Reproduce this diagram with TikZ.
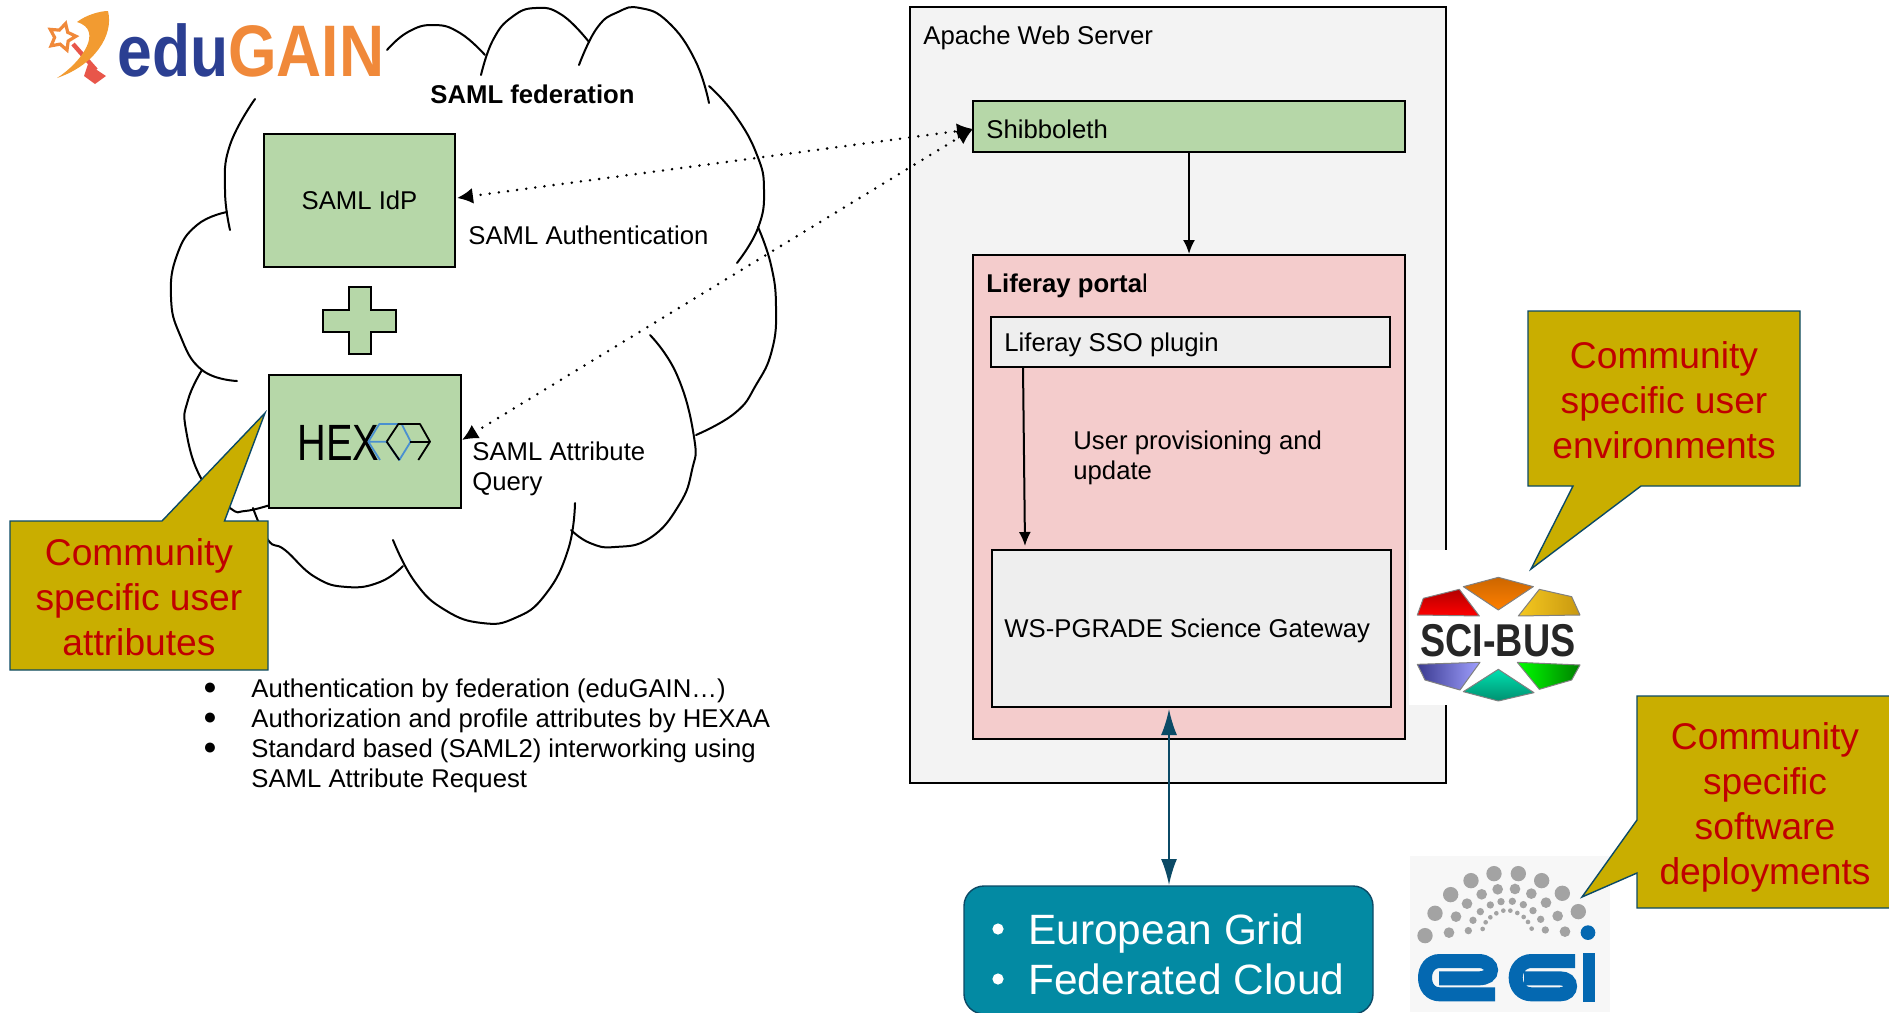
\documentclass[tikz,border=0pt]{standalone}
\usepackage{fontspec}
\setmainfont{Liberation Sans}
\usepackage{tikz}
\usetikzlibrary{positioning}
\usetikzlibrary{arrows.meta}
\usetikzlibrary{shapes.geometric}
\definecolor{boxgreen}{HTML}{B6D7A8}
\definecolor{boxpink}{HTML}{F4CCCC}
\definecolor{boxgray}{HTML}{F3F3F3}
\definecolor{boxlight}{HTML}{EEEEEE}
\definecolor{noteyellow}{HTML}{C9AE00}
\definecolor{notered}{HTML}{C00000}
\definecolor{edgeteal}{HTML}{0B4A66}
\definecolor{gridteal}{HTML}{038AA3}
\definecolor{edublue}{HTML}{2B3F92}
\definecolor{eduorange}{HTML}{F0893A}
\definecolor{edured}{HTML}{E8564A}
\definecolor{egiblue}{HTML}{0468B1}
\definecolor{egigray}{HTML}{A3A3A3}
\definecolor{hexblue}{HTML}{4A90D0}
\definecolor{teallight}{HTML}{00E0B0}
\definecolor{tealdark}{HTML}{009070}
\definecolor{goldlight}{HTML}{F5C820}
\definecolor{golddark}{HTML}{C89810}
\definecolor{bluelight}{HTML}{A0A0FF}
\definecolor{bluedark}{HTML}{3A3A90}

\begin{document}
\begin{tikzpicture}[x=0.5pt,y=-0.5pt,
cloudline/.style={draw=black, line width=1pt, line cap=round},
plainbox/.style={rectangle, draw=black, line width=1pt, inner sep=0pt},
greennode/.style={plainbox, fill=boxgreen},
pinknode/.style={plainbox, fill=boxpink},
graynode/.style={plainbox, fill=boxlight},
labeltext/.style={font=\fontsize{12.85}{15}\selectfont, align=left, anchor=west, inner sep=0pt},
notetext/.style={font=\fontsize{18.6}{22.5}\selectfont, align=center, text=notered, inner sep=0pt},
noteshape/.style={draw=edgeteal, fill=noteyellow, line width=0.7pt},
logopoly/.style={draw=gray, line width=0.5pt, line join=round},
egistroke/.style={draw=egiblue, line width=7pt},
dotline/.style={draw=black, line width=1.4pt, line cap=round, dash pattern=on 0pt off 4.6pt, {Latex[length=8pt,width=8pt]}-{Latex[length=8pt,width=8pt]}},
]
\useasboundingbox (0,0) rectangle (1889,1012);

%Cloud
\draw[cloudline] plot[smooth,tension=0.8] coordinates {(387,50) (408,32) (434,25) (460,33) (485,55)};
\draw[cloudline] plot[smooth,tension=0.8] coordinates {(481,75) (493,40) (512,17) (536,8) (562,15) (589,42)};
\draw[cloudline] plot[smooth,tension=0.8] coordinates {(579,65) (597,28) (618,12) (640,8) (668,22) (695,60) (709,103)};
\draw[cloudline] plot[smooth,tension=0.8] coordinates {(709,86) (735,115) (757,155) (764,190) (758,228) (737,263)};
\draw[cloudline] plot[smooth,tension=0.8] coordinates {(758,227) (771,265) (776,307) (772,350) (756,385) (735,413) (696,435)};
\draw[cloudline] plot[smooth,tension=0.8] coordinates {(650,335) (677,375) (694,437) (692,470) (679,505) (650,538) (615,547) (590,543) (571,530)};
\draw[cloudline] plot[smooth,tension=0.8] coordinates {(575,503) (568,550) (545,595) (515,618) (482,623) (445,610) (415,582) (393,540)};
\draw[cloudline] plot[smooth,tension=0.8] coordinates {(403,566) (380,582) (347,587) (315,577) (285,550) (268,540) (253,508)};
\draw[cloudline] plot[smooth,tension=0.8] coordinates {(270,505) (245,511) (230,508) (202,480) (186,430) (188,400) (202,370)};
\draw[cloudline] plot[smooth,tension=0.8] coordinates {(237,381) (202,370) (180,335) (171,297) (177,255) (197,225) (227,212)};
\draw[cloudline] plot[smooth,tension=0.8] coordinates {(230,230) (225,190) (230,145) (255,99)};

%eduGAIN logo
\node[star, star points=5, star point ratio=1.9, draw=eduorange, line width=1.6pt, minimum size=14pt, inner sep=0pt, rotate=-15] (edustar) at (62,37) {};
\draw[draw=edured, line width=2.2pt] (73,44) -- (96,70);
\fill[edured] (88,64) -- (106,76) -- (95,84) -- (84,76) -- cycle;
\fill[eduorange!85!yellow] (108,11) .. controls (114,35) and (95,65) .. (57,78) .. controls (82,62) and (104,30) .. (77,22) .. controls (86,15) and (100,11) .. (108,11) -- cycle;
\node[inner sep=0pt, anchor=base west, xscale=0.855, font=\fontsize{36.5}{40}\bfseries] (edugain) at (117,76) {\textcolor{edublue}{edu}\textcolor{eduorange}{GAIN}};

%Boxes
\node[plainbox, fill=boxgray, minimum width=268pt, minimum height=388pt] (apache) at (1178,395) {};
\node[greennode, minimum width=216pt, minimum height=25.5pt] (shib) at (1189,126.5) {};
\node[pinknode, minimum width=216pt, minimum height=242pt] (liferay) at (1189,497) {};
\node[graynode, minimum width=199.5pt, minimum height=25pt] (sso) at (1190.5,342) {};
\node[graynode, minimum width=199.5pt, minimum height=78.5pt] (gateway) at (1191.5,628.5) {};
\node[greennode, minimum width=95.5pt, minimum height=66.5pt, font=\fontsize{12.85}{15}\selectfont] (idp) at (359.5,200.5) {SAML IdP};
\node[greennode, minimum width=96pt, minimum height=66.5pt] (hexaa) at (365,441.5) {};
\draw[greennode] (349,287) -- (371,287) -- (371,310) -- (396,310) -- (396,332) -- (371,332) -- (371,354) -- (349,354) -- (349,332) -- (323,332) -- (323,310) -- (349,310) -- cycle;

%HEXAA logo
\node[inner sep=0pt, anchor=base west, xscale=0.78, font=\fontsize{25.5}{30}\selectfont] (hexword) at (297,460) {HEX};
\begin{scope}[shift={(280,400)},scale=0.3333]
\draw[hexblue, line width=0.9pt, line join=round] (300,180) -- (265,125) -- (298,72) -- (365,72) -- (392,125) -- (358,180) -- (320,125) -- (265,125);
\draw[black, line width=0.9pt, line join=round] (320,125) -- (355,72) -- (420,72) -- (450,125) -- (415,180);
\draw[black, line width=0.9pt] (390,125) -- (450,125);
\draw[black, line width=0.9pt] (320,125) -- (358,180);
\end{scope}

%Texts
\node[labeltext] (apachetext) at (923,37.4) {Apache Web Server};
\node[labeltext] (shibtext) at (986,129) {Shibboleth};
\node[labeltext] (portaltext) at (986,285.4) {{\bfseries Liferay porta}l};
\node[labeltext] (ssotext) at (1004,344.4) {Liferay SSO plugin};
\node[labeltext] (updatetext) at (1073,457.4) {User provisioning and\\update};
\node[labeltext] (gatewaytext) at (1004,630.4) {WS-PGRADE Science Gateway};
\node[labeltext, font=\fontsize{12.85}{15}\bfseries] (fedtext) at (430,94) {SAML federation};
\node[labeltext] (authtext) at (468,235) {SAML Authentication};
\node[labeltext] (querytext) at (472,468.4) {SAML Attribute\\Query};
\node[labeltext] (notes) at (251,736) {Authentication by federation (eduGAIN…)\\Authorization and profile attributes by HEXAA\\Standard based (SAML2) interworking using\\SAML Attribute Request};
\foreach \ypos in {689,719,749}
  \node[labeltext, anchor=center, font=\fontsize{11.5}{15}\selectfont] at (210,\ypos) {●};

%SCI-BUS logo
\node[fill=white, inner sep=0pt, minimum width=90pt, minimum height=77.5pt] (scibg) at (1499,627.5) {};
\begin{scope}[shift={(1380,530)},scale=0.3333]
\draw[logopoly, top color=orange!80!black, bottom color=orange] (250,170) -- (355,142) -- (460,170) -- (355,240) -- cycle;
\draw[logopoly, top color=red!70!black, bottom color=red] (112,255) -- (130,205) -- (238,178) -- (298,258) -- cycle;
\draw[logopoly, left color=goldlight, right color=golddark] (415,258) -- (478,178) -- (575,200) -- (600,255) -- cycle;
\draw[logopoly, left color=bluedark, right color=bluelight] (112,403) -- (300,397) -- (240,480) -- (135,450) -- cycle;
\draw[logopoly, top color=teallight, bottom color=tealdark] (250,485) -- (355,418) -- (462,488) -- (355,513) -- cycle;
\draw[logopoly, left color=green, right color=green!50!black] (412,397) -- (600,405) -- (575,450) -- (478,478) -- cycle;
\end{scope}
\node[inner sep=0pt, xscale=0.82, font=\fontsize{23}{26}\bfseries, text=black!85] (scitext) at (1498,641) {SCI-BUS};

%EGI logo
\node[fill=black!3, inner sep=0pt, minimum width=100pt, minimum height=78pt] (egibg) at (1510,934) {};
\begin{scope}[shift={(1380,530)},scale=0.3333]
\foreach \xpos/\ypos in {135/1217,165/1150,212/1094,273/1052,342/1031,415/1031,485/1052,547/1090,595/1145}
  \fill[egigray] (\xpos,\ypos) circle (11.5pt);
\fill[egiblue] (624,1208) circle (11pt);
\foreach \xpos/\ypos in {207/1208,228/1160,261/1121,305/1093,353/1078,405/1077,454/1091,498/1118,533/1158,555/1205}
  \fill[egigray] (\xpos,\ypos) circle (8pt);
\foreach \xpos/\ypos in {265/1202,279/1171,301/1145,331/1125,363/1115,397/1114,430/1124,459/1142,482/1168,496/1200}
  \fill[egigray] (\xpos,\ypos) circle (5.5pt);
\foreach \xpos/\ypos in {308/1197,317/1177,331/1162,349/1150,370/1142,391/1142,412/1149,431/1161,444/1176,455/1196}
  \fill[egigray] (\xpos,\ypos) circle (3.5pt);
\end{scope}
\begin{scope}[shift={(1415,945)},scale=0.3333]
\draw[egistroke] (240,148) -- (75,148) .. controls (45,148) and (30,125) .. (30,98) .. controls (30,72) and (45,48) .. (75,48) -- (190,48) .. controls (215,48) and (228,62) .. (228,75) .. controls (228,90) and (215,100) .. (190,100) -- (72,100);
\end{scope}
\begin{scope}[shift={(1510,945)},scale=0.3333]
\draw[egistroke] (195,48) -- (65,48) .. controls (35,48) and (17,72) .. (17,98) .. controls (17,125) and (35,148) .. (65,148) -- (150,148) .. controls (170,148) and (180,136) .. (180,124) .. controls (180,110) and (170,100) .. (150,100) -- (42,100);
\fill[egiblue] (218,25) rectangle (255,170);
\end{scope}

%Grid node
\node[draw=edgeteal, fill=gridteal, line width=0.7pt, rounded corners=10pt, minimum width=204.5pt, minimum height=64pt, inner sep=0pt] (grid) at (1168.5,950) {};
\node[labeltext, text=white, font=\fontsize{21.2}{25}\selectfont] (gridtext) at (1028,954.5) {European Grid\\Federated Cloud};
\foreach \ypos in {929,979}
  \fill[white] (998,\ypos) circle (2.8pt);

%Notes
\draw[noteshape] (10,521) -- (162,521) -- (265,413) -- (224.5,521) -- (268,521) -- (268,670) -- (10,670) -- cycle;
\node[notetext] (usernote) at (139,597) {Community\\specific user\\attributes};
\draw[noteshape] (1528,311) -- (1800,311) -- (1800,486) -- (1641,486) -- (1531,569) -- (1573,486) -- (1528,486) -- cycle;
\node[notetext] (envnote) at (1664,400) {Community\\specific user\\environments};
\draw[noteshape] (1637,696) -- (1895,696) -- (1895,908) -- (1637,908) -- (1637,873) -- (1582,897) -- (1637,820) -- cycle;
\node[notetext] (softnote) at (1765,807) {Community\\specific\\software\\deployments};

%Lines
\coordinate (shibin) at (973,129);
\coordinate (idpin) at (457,198);
\coordinate (hexin) at (462,440);
\coordinate (ssoout) at (1023,367);
\coordinate (gatein) at (1025,546);
\coordinate (gridup) at (1169,709);
\coordinate (griddown) at (1169,885);
\draw[dotline] (idpin) -- (shibin);
\draw[dotline] (hexin) -- (shibin);
\draw[line width=1pt,-{Latex[length=7pt,width=6pt]}] (shib.south) -- (liferay.north);
\draw[line width=1pt,-{Latex[length=7pt,width=6pt]}] (ssoout) -- (gatein);
\draw[edgeteal, line width=0.9pt,{Latex[length=13pt,width=8pt]}-{Latex[length=13pt,width=8pt]}] (gridup) -- (griddown);
\end{tikzpicture}
\end{document}
